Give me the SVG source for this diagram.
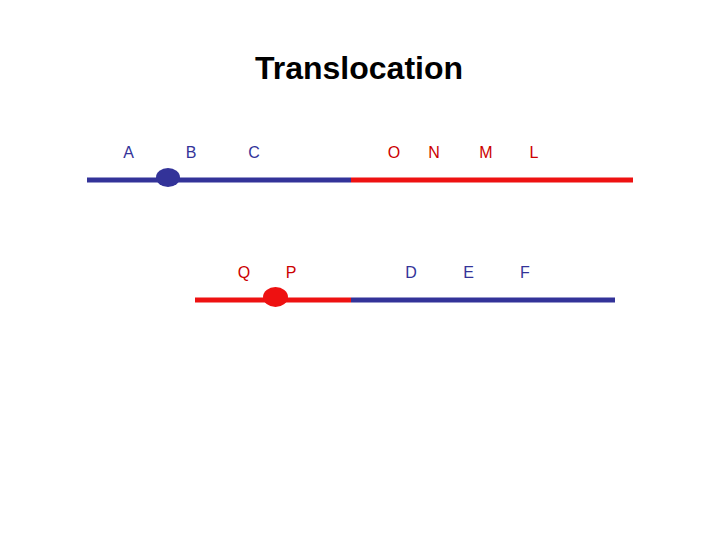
<svg xmlns="http://www.w3.org/2000/svg" width="720" height="540" viewBox="0 0 720 540">
<style>
.t{font-family:"Liberation Sans",Arial,sans-serif;font-size:16px;text-anchor:middle}
.b{fill:#333399}.r{fill:#cc0000}
.lb{stroke:#333399;stroke-width:5}.lr{stroke:#ee1111;stroke-width:5}
</style>
<rect width="720" height="540" fill="#fff"/>
<text x="359" y="79" font-family="Liberation Sans,Arial,sans-serif" font-size="32" font-weight="bold" text-anchor="middle" fill="#000">Translocation</text>
<g id="connectors">
<line class="lb" x1="87" y1="180" x2="351" y2="180"/>
<line class="lr" x1="351" y1="180" x2="633" y2="180"/>
<line class="lr" x1="195" y1="300" x2="351" y2="300"/>
<line class="lb" x1="351" y1="300" x2="615" y2="300"/>
</g>
<g id="centromere1"><ellipse cx="168" cy="177.5" rx="12" ry="9.5" fill="#333399"/></g>
<g id="centromere2"><ellipse cx="275.5" cy="297" rx="12.5" ry="10" fill="#ee1111"/></g>
<g id="labels1">
<text class="t b" x="128.5" y="157.5">A</text>
<text class="t b" x="191" y="157.5">B</text>
<text class="t b" x="254" y="157.5">C</text>
<text class="t r" x="394" y="157.5">O</text>
<text class="t r" x="434" y="157.5">N</text>
<text class="t r" x="486" y="157.5">M</text>
<text class="t r" x="534" y="157.5">L</text>
</g>
<g id="labels2">
<text class="t r" x="244" y="278">Q</text>
<text class="t r" x="291" y="278">P</text>
<text class="t b" x="411" y="278">D</text>
<text class="t b" x="468.5" y="278">E</text>
<text class="t b" x="525" y="278">F</text>
</g>
</svg>
